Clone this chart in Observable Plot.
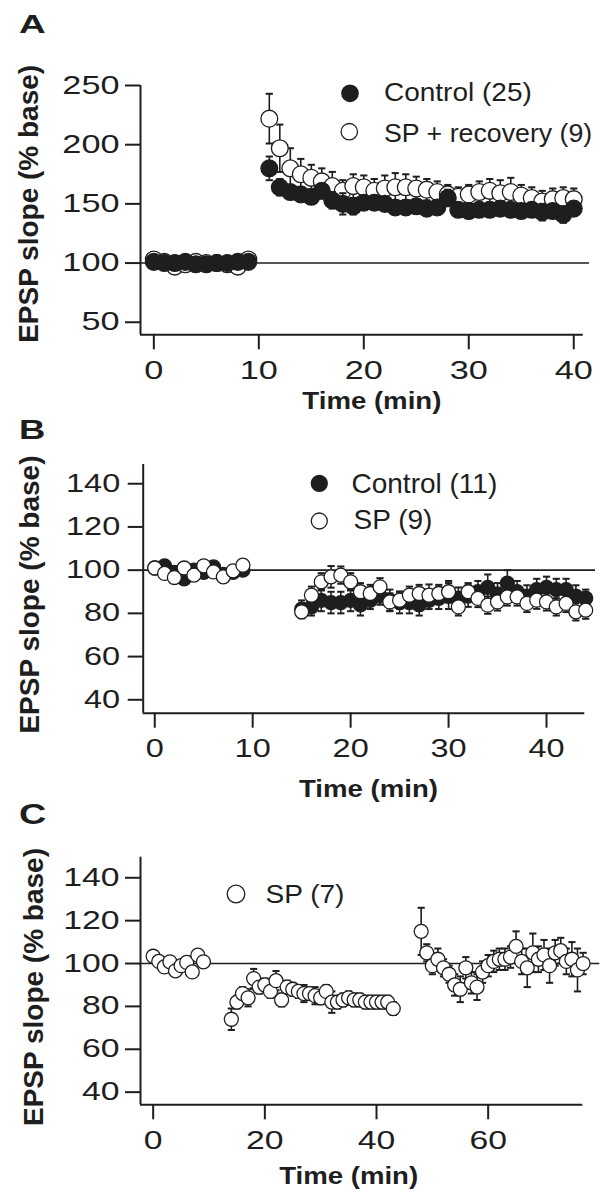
<!DOCTYPE html>
<html><head><meta charset="utf-8">
<script src="https://cdn.jsdelivr.net/npm/d3@7"></script>
<script src="https://cdn.jsdelivr.net/npm/@observablehq/plot@0.6"></script>
<style>
body{margin:0;background:#fff;}
#page{position:relative;width:608px;height:1199px;overflow:hidden;background:#fff;}
#page svg{display:block;}
</style></head><body><div id="page"></div>
<script>
// ---------------- DATA ----------------
// Panel A
const aTime = [0,1,2,3,4,5,6,7,8,9,11,12,13,14,15,16,17,18,19,20,21,22,23,24,25,26,27,28,29,30,31,32,33,34,35,36,37,38,39,40];
const aControl = [101,100,100,101,99,99,100,100,101,101, 180,164,160,158,156,161,153,150,148,151, 151,150,147,147,148,146,147,155,145,144, 145,145,146,145,144,145,143,144,141,146];
const aControlSem = [2,2,2,2,2,2,2,2,2,2, 10,7,6,6,6,6,7,9,7,6, 6,6,6,6,6,6,6,7,6,6, 6,6,6,6,6,6,7,6,7,6];
const aSP = [103,101,97,99,101,100,100,99,97,103, 222,197,180,175,172,169,165,161,165,164, 161,163,164,164,163,162,160,158,156,158, 160,161,159,160,157,155,152,154,155,154];
const aSPSem = [3,3,3,3,3,3,3,3,3,3, 21,20,17,13,11,11,12,9,10,10, 10,11,12,11,10,9,9,8,8,8, 9,10,11,12,9,9,9,9,9,9];
const aXTicks = [0,10,20,30,40];
const aYTicks = [50,100,150,200,250];

// Panel B
const bTime = [0,1,2,3,4,5,6,7,8,9,15,16,17,18,19,20,21,22,23,24,25,26,27,28,29,30,31,32,33,34,35,36,37,38,39,40,41,42,43,44];
const bControl = [101,102,99,96,100,99,101.5,98,99,100, 82,83,86,85,85,86,84,86,88,86, 85,85,84,86,87,88,87,88,90,92, 89,94,90,88,91,92,91,91,88,87];
const bControlSem = [2,2,2,2,2,2,2,2,2,2, 4,4,5,5,5,5,5,4,4,5, 5,5,5,4,5,6,5,5,5,6, 5,6,5,5,5,5,5,5,5,4];
const bSP = [101,98.5,96.6,101,97.7,102,99.2,96.9,99.7,102.3, 80.7,88.4,94.6,96.9,97.7,94.6,90,89.2,92.3,85.3, 86.1,88.4,89.2,88.4,89.2,90,83,90,86.9,83.8, 85.3,87.6,87.6,84.6,86.1,85.3,83,84.6,80.7,81.5];
const bSPSem = [2,2,2,2,2,2,2,2,2,2, 3,4,4,5,4,4,4,4,4,4, 4,4,4,5,4,5,4,4,4,4, 4,4,4,4,4,4,4,4,4,4];
const bXTicks = [0,10,20,30,40];
const bYTicks = [40,60,80,100,120,140];

// Panel C
const cTime = [0,1,2,3,4,5,6,7,8,9,
  14,15,16,17,18,19,20,21,22,23,24,25,26,27,28,29,30,31,32,33,34,35,36,37,38,39,40,41,42,43,
  48,49,50,51,52,53,54,55,56,57,58,59,60,61,62,63,64,65,66,67,68,69,70,71,72,73,74,75,76,77];
const cSP = [103.4,101,98.4,100.8,96.6,99,100.5,96.1,103.9,100.8,
  74,82,86,84,93,89,90,87,92,83, 89,88,87,86,86,85,84,87,82,82, 83,84,83,83,82,82,82,82,82,79,
  115,105,99,102,98,95,90,88,98,91, 89,96,99,101,102,102,103,108,101,98, 105,102,104,99,105,106,101,102,97,100];
const cSPSem = [2,2,2,2,2,2,2,2,2,2,
  5,3,3,4,4.5,3,3,3,4.5,3, 3,3,3,4,3,4,3,3,5,3, 3,3,3,3,3,3,3,3,3,3,
  11,4,4,5,4,4,5,6,5,5, 6,5,5,5,5,5,5,7,6,9, 9,6,7,8,6,6,6,8,10,5];
const cXTicks = [0,20,40,60];
const cYTicks = [40,60,80,100,120,140];

const xTitle = "Time (min)";
const yTitle = "EPSP slope (% base)";

// ---------------- DRAW ----------------
const INK = "#1e1e1e";
const FONT = "'Liberation Sans', Arial, Helvetica, sans-serif";
const capSymbol = {draw(ctx, size) { const w = Math.sqrt(size / Math.PI); ctx.moveTo(-w, 0); ctx.lineTo(w, 0); }};

function rows(t, v, s) { return t.map((d, i) => ({t: d, v: v[i], s: s[i]})); }

function stretchEl(t, s) {
  const tr = t.getAttribute("transform");
  if (tr) t.setAttribute("transform", tr + ` scale(${s},1)`);
  else {
    const x = parseFloat(t.getAttribute("x")) || 0;
    t.setAttribute("transform", `translate(${x},0) scale(${s},1) translate(${-x},0)`);
  }
}
function stretch(svg, selector, s) {
  svg.querySelectorAll(selector).forEach(t => stretchEl(t, s));
}

function panel(cfg) {
  const marks = [];
  marks.push(Plot.ruleY([{y: 100, x1: cfg.xDomain[0], x2: cfg.refEnd}], {y: "y", x1: "x1", x2: "x2", stroke: INK, strokeWidth: 1.6}));
  for (const s of cfg.series) {
    const data = rows(s.t, s.v, s.s);
    marks.push(Plot.ruleX(data, {x: "t", y1: d => d.v - d.s, y2: d => d.v + d.s, stroke: INK, strokeWidth: 1.6}));
    marks.push(Plot.dot(data, {x: "t", y: d => d.v + d.s, symbol: capSymbol, r: 3.6, fill: "none", stroke: INK, strokeWidth: 2}));
    marks.push(Plot.dot(data, {x: "t", y: d => d.v - d.s, symbol: capSymbol, r: 3.6, fill: "none", stroke: INK, strokeWidth: 2}));
    marks.push(Plot.dot(data, {x: "t", y: "v", r: cfg.r, fill: s.fill, stroke: INK, strokeWidth: 1.3}));
  }
  marks.push(Plot.ruleX([cfg.xDomain[0]], {stroke: INK, strokeWidth: 2}));
  marks.push(Plot.ruleY([cfg.yDomain[0]], {stroke: INK, strokeWidth: 2}));
  marks.push(Plot.axisX({ticks: cfg.xTicks, tickSize: 15, tickPadding: 11, fontSize: 25, strokeWidth: 2, label: null, tickFormat: d => String(d)}));
  marks.push(Plot.axisY({ticks: cfg.yTicks, tickSize: 15, tickPadding: cfg.yPad, fontSize: 25, strokeWidth: 2, label: null, tickFormat: d => String(d)}));
  marks.push(Plot.text([xTitle], {text: d => d, frameAnchor: "bottom", lineAnchor: "bottom", dx: cfg.xTitleDx, dy: cfg.xTitleDy, fontSize: 23, fontWeight: "bold", fill: INK}));
  marks.push(Plot.text([yTitle], {text: d => d, frameAnchor: "left", rotate: -90, lineAnchor: "top", textAnchor: "middle", dx: cfg.yTitleDx, dy: cfg.yTitleDy, fontSize: 28, fontWeight: "bold", fill: INK}));

  const svg = Plot.plot({
    width: 608, height: cfg.height,
    marginLeft: cfg.m[3], marginRight: cfg.m[1], marginTop: cfg.m[0], marginBottom: cfg.m[2],
    x: {type: "linear", domain: cfg.xDomain},
    y: {type: "linear", domain: cfg.yDomain},
    style: {fontFamily: FONT, color: INK, background: "#fff", overflow: "visible"},
    marks
  });
  stretch(svg, 'g[aria-label="x-axis tick label"] text', cfg.tickScale);
  stretch(svg, 'g[aria-label="y-axis tick label"] text', cfg.tickScale);
  svg.querySelectorAll("text").forEach(t => { if (t.textContent === xTitle) stretchEl(t, 1.2); });
  return svg;
}

const page = document.getElementById("page");

page.appendChild(panel({
  height: 420, m: [85, 25.3, 85.7, 140],
  xDomain: [-1.27, 40.9], yDomain: [39.4, 250], refEnd: 41.5,
  xTicks: aXTicks, yTicks: aYTicks, r: 8.4, yPad: 6, tickScale: 1.37,
  xTitleDx: 10, xTitleDy: 74.2, yTitleDx: -122, yTitleDy: -6.3,
  series: [
    {t: aTime, v: aSP, s: aSPSem, fill: "#fff"},
    {t: aTime, v: aControl, s: aControlSem, fill: INK}
  ]
}));

page.appendChild(panel({
  height: 385, m: [44, 23.7, 92.3, 142.7],
  xDomain: [-1.18, 43.91], yDomain: [33.8, 148.9], refEnd: 45,
  xTicks: bXTicks, yTicks: bYTicks, r: 7, yPad: 8, tickScale: 1.3,
  xTitleDx: 4.5, xTitleDy: 83.8, yTitleDx: -124.4, yTitleDy: 5.7,
  series: [
    {t: bTime, v: bControl, s: bControlSem, fill: INK},
    {t: bTime, v: bSP, s: bSPSem, fill: "#fff"}
  ]
}));

page.appendChild(panel({
  height: 394, m: [51.7, 25.7, 94.7, 140],
  xDomain: [-2.27, 76.95], yDomain: [34.1, 149.6], refEnd: 80,
  xTicks: cXTicks, yTicks: cYTicks, r: 7, yPad: 6, tickScale: 1.35,
  xTitleDx: -13, xTitleDy: 78.9, yTitleDx: -117.3, yTitleDy: 6,
  series: [
    {t: cTime, v: cSP, s: cSPSem, fill: "#fff"}
  ]
}));

// ---------------- PANEL LETTERS & LEGENDS (overlay) ----------------
const letters = [
  {t: "A", x: 19, y: 33, size: 25.5, sx: 1.45},
  {t: "B", x: 19, y: 439, size: 27, sx: 1.35},
  {t: "C", x: 19, y: 824, size: 30, sx: 1.26}
];
const legendItems = [
  {label: "Control (25)", cx: 350, cy: 93.3, r: 8.2, fill: INK, tx: 384, ty: 100.5, size: 25, sx: 1.12},
  {label: "SP + recovery (9)", cx: 349.3, cy: 131.7, r: 8.2, fill: "#fff", tx: 384, ty: 141.7, size: 25, sx: 1.07},
  {label: "Control (11)", cx: 319.3, cy: 483.3, r: 8, fill: INK, tx: 351.5, ty: 493.3, size: 28, sx: 1.0},
  {label: "SP (9)", cx: 319.3, cy: 521, r: 8, fill: "#fff", tx: 353.5, ty: 529.3, size: 28, sx: 1.0},
  {label: "SP (7)", cx: 236, cy: 894, r: 8.8, fill: "#fff", tx: 265.5, ty: 903.3, size: 25.5, sx: 1.1}
];

const ov = d3.select(page).append("svg")
  .attr("width", 608).attr("height", 1199)
  .style("position", "absolute").style("left", 0).style("top", 0)
  .style("pointer-events", "none")
  .style("font-family", FONT);

ov.selectAll("text.letter").data(letters).join("text")
  .attr("class", "letter")
  .attr("transform", d => `translate(${d.x},${d.y}) scale(${d.sx},1)`)
  .attr("font-size", d => d.size).attr("font-weight", "bold").attr("fill", INK)
  .text(d => d.t);

ov.selectAll("circle.leg").data(legendItems).join("circle")
  .attr("class", "leg")
  .attr("cx", d => d.cx).attr("cy", d => d.cy).attr("r", d => d.r)
  .attr("fill", d => d.fill).attr("stroke", INK).attr("stroke-width", 1.3);

ov.selectAll("text.leg").data(legendItems).join("text")
  .attr("class", "leg")
  .attr("transform", d => `translate(${d.tx},${d.ty}) scale(${d.sx},1)`)
  .attr("font-size", d => d.size).attr("fill", INK)
  .text(d => d.label);
</script>
</body></html>
